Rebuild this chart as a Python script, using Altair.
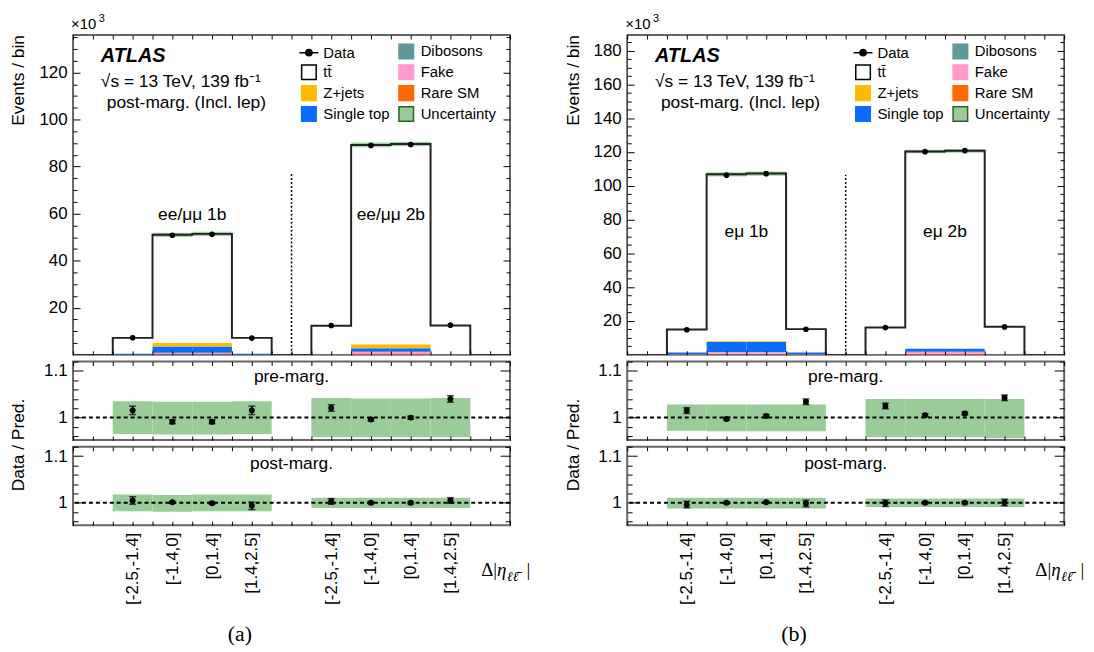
import json
import altair as alt
import pandas as pd

FONT = "Liberation Sans"
SERIF = "Liberation Serif"

# ---------------- bins / labels ----------------
bin_lo = [1, 2, 3, 4, 6, 7, 8, 9]
bin_hi = [2, 3, 4, 5, 7, 8, 9, 10]
bin_mid = [1.5, 2.5, 3.5, 4.5, 6.5, 7.5, 8.5, 9.5]
tick_labels = ["[-2.5,-1.4]", "[-1.4,0]", "[0,1.4]", "[1.4,2.5]"] * 2
x_ticks = [0, 0.5, 1, 1.5, 2, 2.5, 3, 3.5, 4, 4.5, 5, 5.5, 6, 6.5, 7, 7.5, 8, 8.5, 9, 9.5, 10, 10.5, 11]

comp_names = ["Rare SM", "Dibosons", "Fake", "Single top", "Z+jets"]
comp_colors = ["#ff6a00", "#5f9999", "#ff99cc", "#0a6cff", "#ffbb00"]

# ---------------- (a) ee/mumu, events x10^3 ----------------
a_ttbar = [6.7, 46.0, 46.4, 6.7, 12.0, 84.8, 85.2, 12.1]
a_zjets = [0.05, 1.5, 1.5, 0.05, 0.03, 1.6, 1.6, 0.03]
a_stop = [0.3, 2.6, 2.6, 0.3, 0.15, 1.5, 1.5, 0.15]
a_fake = [0.07, 0.6, 0.6, 0.07, 0.08, 0.95, 0.95, 0.08]
a_dib = [0.03, 0.1, 0.1, 0.03, 0.02, 0.05, 0.05, 0.02]
a_rare = [0.05, 0.2, 0.2, 0.05, 0.1, 0.3, 0.3, 0.1]
a_data = [7.25, 50.8, 51.2, 7.1, 12.45, 89.0, 89.4, 12.6]

a_pre = [1.0155, 0.991, 0.991, 1.0155, 1.0206, 0.996, 1.0, 1.040]
a_pre_err = [0.009, 0.004, 0.004, 0.009, 0.007, 0.003, 0.003, 0.007]
a_pre_lo = [0.965, 0.964, 0.964, 0.965, 0.958, 0.958, 0.958, 0.958]
a_pre_hi = [1.035, 1.034, 1.034, 1.035, 1.042, 1.041, 1.041, 1.042]
a_post = [1.005, 1.001, 0.999, 0.9935, 1.003, 1.0, 1.0, 1.005]
a_post_err = [0.008, 0.002, 0.002, 0.008, 0.006, 0.002, 0.002, 0.006]
a_post_lo = [0.982, 0.981, 0.982, 0.982, 0.989, 0.989, 0.989, 0.989]
a_post_hi = [1.018, 1.017, 1.018, 1.018, 1.011, 1.011, 1.011, 1.011]

# ---------------- (b) emu, events x10^3 ----------------
b_ttbar = [13.65, 98.8, 99.3, 13.85, 15.67, 116.65, 117.05, 16.07]
b_zjets = [0.05, 0.4, 0.4, 0.05, 0.01, 0.1, 0.1, 0.01]
b_stop = [0.8, 6.0, 6.0, 0.8, 0.2, 1.8, 1.8, 0.2]
b_fake = [0.2, 1.0, 1.0, 0.2, 0.1, 1.1, 1.1, 0.1]
b_dib = [0.1, 0.2, 0.2, 0.1, 0.02, 0.05, 0.05, 0.02]
b_rare = [0.2, 0.4, 0.4, 0.2, 0.2, 0.6, 0.6, 0.2]
b_data = [14.8, 106.3, 107.2, 15.1, 16.1, 120.2, 120.8, 16.5]

b_pre = [1.015, 0.997, 1.0036, 1.034, 1.025, 1.005, 1.009, 1.0425]
b_pre_err = [0.006, 0.003, 0.003, 0.006, 0.006, 0.003, 0.003, 0.006]
b_pre_lo = [0.972, 0.971, 0.971, 0.971, 0.958, 0.958, 0.958, 0.956]
b_pre_hi = [1.028, 1.028, 1.028, 1.028, 1.040, 1.040, 1.040, 1.040]
b_post = [0.9964, 1.0, 1.0013, 0.9985, 0.999, 1.0, 1.0, 1.0007]
b_post_err = [0.007, 0.002, 0.002, 0.007, 0.007, 0.002, 0.002, 0.007]
b_post_lo = [0.988, 0.988, 0.988, 0.988, 0.991, 0.991, 0.991, 0.991]
b_post_hi = [1.011, 1.011, 1.011, 1.011, 1.009, 1.009, 1.009, 1.009]

# ---------------- legend (column-major order) ----------------
leg_items = ["Data", "tt\u0304", "Z+jets", "Single top", "Dibosons", "Fake", "Rare SM", "Uncertainty"]
leg_fill = ["black", "white", "#ffbb00", "#0a6cff", "#5f9999", "#ff99cc", "#ff6a00", "#99cc99"]
leg_stroke = ["black", "black", "#ffbb00", "#0a6cff", "#5f9999", "#ff99cc", "#ff6a00", "#2f5f2f"]
SQ = "M-1,-1H1V1H-1Z"
DOT = "M-1.3,0H1.3M-0.42,0A0.42,0.42,0,1,1,0.42,0A0.42,0.42,0,1,1,-0.42,0Z"
leg_shape = [DOT, SQ, SQ, SQ, SQ, SQ, SQ, SQ]

UNC = "#99cc99"
one = pd.DataFrame({"a": [0]})


def txt(text, x, y, size=17, align="left", baseline="alphabetic", font=FONT, **kw):
    return alt.Chart(one).mark_text(text=text, fontSize=size, align=align, baseline=baseline,
                                    font=font, color="black", **kw).encode(
        x=alt.value(x), y=alt.value(y))


def axis_layers(xs, ys, ymaj, ymin, lmaj, lmin, xlab=False, fmt=None):
    empty = pd.DataFrame({"x": pd.Series([], dtype=float), "y": pd.Series([], dtype=float)})
    base = alt.Chart(empty).mark_point(opacity=0)
    common = dict(domain=False, grid=False, title=None, tickColor="black", tickWidth=1, zindex=1)

    def yax(**kw):
        return base.encode(x=alt.X("x:Q", scale=xs, axis=None),
                           y=alt.Y("y:Q", scale=ys, axis=alt.Axis(**common, **kw)))

    def xax(**kw):
        return base.encode(x=alt.X("x:Q", scale=xs, axis=alt.Axis(**common, **kw)),
                           y=alt.Y("y:Q", scale=ys, axis=None))

    lab = dict(orient="left", values=ymaj, tickSize=lmaj, offset=-lmaj, labels=True, labelPadding=6,
               labelFontSize=17, labelColor="black", labelFont=FONT, labelOverlap=False)
    if fmt:
        lab["format"] = fmt
    out = [
        yax(**lab),
        yax(orient="left", values=ymin, tickSize=lmin, offset=-lmin, labels=False),
        yax(orient="right", values=ymaj, tickSize=lmaj, offset=-lmaj, labels=False),
        yax(orient="right", values=ymin, tickSize=lmin, offset=-lmin, labels=False),
        xax(orient="bottom", values=x_ticks, tickSize=4, offset=-4, labels=False),
        xax(orient="top", values=x_ticks, tickSize=4, offset=-4, labels=False),
    ]
    if xlab:
        expr = f"{json.dumps(tick_labels)}[indexof({json.dumps(bin_mid)}, datum.value)]"
        out.append(xax(orient="bottom", values=bin_mid, ticks=False, labelPadding=7, labelAngle=270,
                       labelFontSize=17, labelColor="black", labelFont=FONT, labelExpr=expr,
                       labelOverlap=False))
    return out


def main_panel(ttbar, zj, st, fk, db, rs, data, ulo, uhi, ymax, ymaj, ymin, div_top, grp_labels, grp_y):
    xs = alt.Scale(domain=[0, 11], nice=False, zero=False)
    ys = alt.Scale(domain=[0, ymax], nice=False, zero=False)
    comps = [rs, db, fk, st, zj]
    rows = []
    for i in range(8):
        for k, vals in enumerate(comps):
            rows.append(dict(x0=bin_lo[i], x1=bin_hi[i], comp=comp_names[k], value=vals[i], order=k))
    stack_df = pd.DataFrame(rows)
    stack = alt.Chart(stack_df).transform_stack(
        stack="value", groupby=["x0"], sort=[alt.SortField("order", order="ascending")], as_=["y0", "y1"]
    ).mark_rect().encode(
        x=alt.X("x0:Q", scale=xs, axis=None), x2="x1:Q",
        y=alt.Y("y0:Q", scale=ys, axis=None), y2="y1:Q",
        color=alt.Color("comp:N", scale=alt.Scale(domain=comp_names, range=comp_colors), legend=None),
    )
    tot = [ttbar[i] + sum(c[i] for c in comps) for i in range(8)]
    hist_df = pd.DataFrame({"x0": bin_lo, "x1": bin_hi, "mid": bin_mid, "total": tot, "data": data,
                            "ulo": [tot[i] * ulo[i] for i in range(8)],
                            "uhi": [tot[i] * uhi[i] for i in range(8)]})
    unc = alt.Chart(hist_df).mark_rect(color=UNC, opacity=0.9).encode(
        x=alt.X("x0:Q", scale=xs, axis=None), x2="x1:Q",
        y=alt.Y("ulo:Q", scale=ys, axis=None), y2="uhi:Q")
    orows = []
    for g, idx in enumerate([[0, 1, 2, 3], [4, 5, 6, 7]]):
        seq = 0
        orows.append(dict(g=g, s=seq, x=bin_lo[idx[0]], y=0.0)); seq += 1
        for i in idx:
            orows.append(dict(g=g, s=seq, x=bin_lo[i], y=tot[i])); seq += 1
        orows.append(dict(g=g, s=seq, x=bin_hi[idx[-1]], y=0.0))
    outline = alt.Chart(pd.DataFrame(orows)).mark_line(
        interpolate="step-after", color="#222222", strokeWidth=2).encode(
        x=alt.X("x:Q", scale=xs, axis=None), y=alt.Y("y:Q", scale=ys, axis=None),
        detail="g:N", order="s:Q")
    div_df = pd.DataFrame({"x": [5.5], "y0": [0.0], "y1": [div_top]})
    divider = alt.Chart(div_df).mark_rule(color="black", strokeWidth=1.5, strokeDash=[2, 2]).encode(
        x=alt.X("x:Q", scale=xs, axis=None), y=alt.Y("y0:Q", scale=ys, axis=None), y2="y1:Q")
    pts = alt.Chart(hist_df).mark_point(filled=True, color="black", size=32, opacity=1).encode(
        x=alt.X("mid:Q", scale=xs, axis=None), y=alt.Y("data:Q", scale=ys, axis=None))
    gl_df = pd.DataFrame({"x": [3.0, 8.0], "y": [grp_y, grp_y], "t": grp_labels})
    glabels = alt.Chart(gl_df).mark_text(fontSize=17.5, font=FONT, color="black", baseline="middle").encode(
        x=alt.X("x:Q", scale=xs, axis=None), y=alt.Y("y:Q", scale=ys, axis=None), text="t:N")

    leg = alt.Legend(title=None, orient="none", legendX=229, legendY=8, columns=2, symbolSize=215,
                     symbolStrokeWidth=1.5, labelFontSize=15, labelFont=FONT, labelColor="black",
                     rowPadding=0, columnPadding=6, labelOffset=6, padding=0, labelLimit=300,
                     symbolOpacity=1)
    leg_layer = alt.Chart(pd.DataFrame({"item": leg_items})).transform_filter("false").mark_point(
        filled=True, size=215, opacity=1).encode(
        fill=alt.Fill("item:N", scale=alt.Scale(domain=leg_items, range=leg_fill), legend=leg),
        stroke=alt.Stroke("item:N", scale=alt.Scale(domain=leg_items, range=leg_stroke), legend=leg),
        shape=alt.Shape("item:N", scale=alt.Scale(domain=leg_items, range=leg_shape), legend=leg),
    )
    texts = [
        txt("ATLAS", 28, 27, 20, fontWeight="bold", fontStyle="italic"),
        txt("\u221As = 13 TeV, 139 fb\u207B\u00B9", 28, 52, 17.5),
        txt("post-marg. (Incl. lep)", 34, 73.5, 17.5),
        txt("\u00D710", -2, -6.5, 15),
        txt("3", 26, -13, 11),
        txt("Events / bin", -54, 0, 17.5, align="right", baseline="middle", angle=270),
    ]
    layers = [stack, unc, outline, divider, pts, glabels] + texts + [leg_layer] + \
        axis_layers(xs, ys, ymaj, ymin, 7, 4)
    return alt.layer(*layers).resolve_axis(x="independent", y="independent").properties(
        width=440, height=322)


RDOM = [0.952, 1.12]
r_major = [1.0, 1.1]
r_minor = [0.96, 0.98, 1.02, 1.04, 1.06, 1.08, 1.12]


def ratio_panel(r, e, lo, hi, label, label_y, first, caption=None):
    xs = alt.Scale(domain=[0, 11], nice=False, zero=False)
    ys = alt.Scale(domain=RDOM, nice=False, zero=False)
    df = pd.DataFrame({"x0": bin_lo, "x1": bin_hi, "mid": bin_mid, "r": r, "e": e, "lo": lo, "hi": hi})
    band = alt.Chart(df).mark_rect(color=UNC, opacity=1).encode(
        x=alt.X("x0:Q", scale=xs, axis=None), x2="x1:Q",
        y=alt.Y("lo:Q", scale=ys, axis=None), y2="hi:Q")
    one_line = alt.Chart(one).mark_rule(color="black", strokeWidth=2, strokeDash=[4, 3]).encode(
        y=alt.Y(datum=1.0, scale=ys, axis=None))
    err_base = alt.Chart(df).transform_calculate(elo="datum.r - datum.e", ehi="datum.r + datum.e")
    err = err_base.mark_rule(color="black", strokeWidth=1.5).encode(
        x=alt.X("mid:Q", scale=xs, axis=None), y=alt.Y("elo:Q", scale=ys, axis=None), y2="ehi:Q")
    cap_lo = err_base.mark_tick(color="black", orient="horizontal", size=7, thickness=1.5).encode(
        x=alt.X("mid:Q", scale=xs, axis=None), y=alt.Y("elo:Q", scale=ys, axis=None))
    cap_hi = err_base.mark_tick(color="black", orient="horizontal", size=7, thickness=1.5).encode(
        x=alt.X("mid:Q", scale=xs, axis=None), y=alt.Y("ehi:Q", scale=ys, axis=None))
    pts = alt.Chart(df).mark_point(filled=True, color="black", size=36, opacity=1).encode(
        x=alt.X("mid:Q", scale=xs, axis=None), y=alt.Y("r:Q", scale=ys, axis=None))
    layers = [band, one_line, err, cap_lo, cap_hi, pts,
              txt(label, 220, label_y, 17.5, align="center", baseline="middle")]
    if first:
        layers.append(txt("Data / Pred.", -54, 84, 17.5, align="center", baseline="middle", angle=270))
    if caption is not None:
        layers += [
            txt("\u0394|", 411, 130, 19, font=SERIF),
            txt("\u03B7", 427, 130, 19, font=SERIF, fontStyle="italic"),
            txt("\u2113\u2113\u0304", 437, 135, 14, font=SERIF, fontStyle="italic"),
            txt("|", 456.5, 130, 19, font=SERIF),
            txt(caption, 168, 196, 22, align="center", font=SERIF),
        ]
    layers += axis_layers(xs, ys, r_major, r_minor, 10, 5, xlab=caption is not None, fmt="~g")
    return alt.layer(*layers).resolve_axis(x="independent", y="independent").properties(
        width=440, height=79, view=alt.ViewBackground(stroke="#666666", strokeWidth=2))


a_main = main_panel(a_ttbar, a_zjets, a_stop, a_fake, a_dib, a_rare, a_data, a_post_lo, a_post_hi,
                    135.9, [20, 40, 60, 80, 100, 120],
                    [5, 10, 15, 25, 30, 35, 45, 50, 55, 65, 70, 75, 85, 90, 95, 105, 110, 115, 125, 130, 135],
                    77.0, ["ee/\u03BC\u03BC 1b", "ee/\u03BC\u03BC 2b"], 59.4)
b_main = main_panel(b_ttbar, b_zjets, b_stop, b_fake, b_dib, b_rare, b_data, b_post_lo, b_post_hi,
                    189.2, [20, 40, 60, 80, 100, 120, 140, 160, 180],
                    [5, 10, 15, 25, 30, 35, 45, 50, 55, 65, 70, 75, 85, 90, 95, 105, 110, 115, 125, 130, 135,
                     145, 150, 155, 165, 170, 175, 185],
                    106.5, ["e\u03BC 1b", "e\u03BC 2b"], 72.5)

res_ch = dict(fill="independent", stroke="independent", shape="independent")


def column(main, r1, r2):
    return alt.vconcat(main, r1, r2, spacing=6.8, bounds="flush").resolve_scale(**res_ch).resolve_legend(**res_ch)


col_a = column(a_main,
               ratio_panel(a_pre, a_pre_err, a_pre_lo, a_pre_hi, "pre-marg.", 16, True),
               ratio_panel(a_post, a_post_err, a_post_lo, a_post_hi, "post-marg.", 17, False, caption="(a)"))
col_b = column(b_main,
               ratio_panel(b_pre, b_pre_err, b_pre_lo, b_pre_hi, "pre-marg.", 16, True),
               ratio_panel(b_post, b_post_err, b_post_lo, b_post_hi, "post-marg.", 17, False, caption="(b)"))

# nested columns count as zero-width under flush bounds, so spacing = panel width + gap
chart = alt.hconcat(col_a, col_b, spacing=558, bounds="flush").resolve_scale(**res_ch).resolve_legend(
    **res_ch).properties(padding={"left": 1.5, "top": 2, "right": 0, "bottom": 0}).configure(
    font=FONT).configure_view(stroke="#333333", strokeWidth=1.5)

chart.save("out.html", embed_options={"renderer": "svg", "actions": False})
